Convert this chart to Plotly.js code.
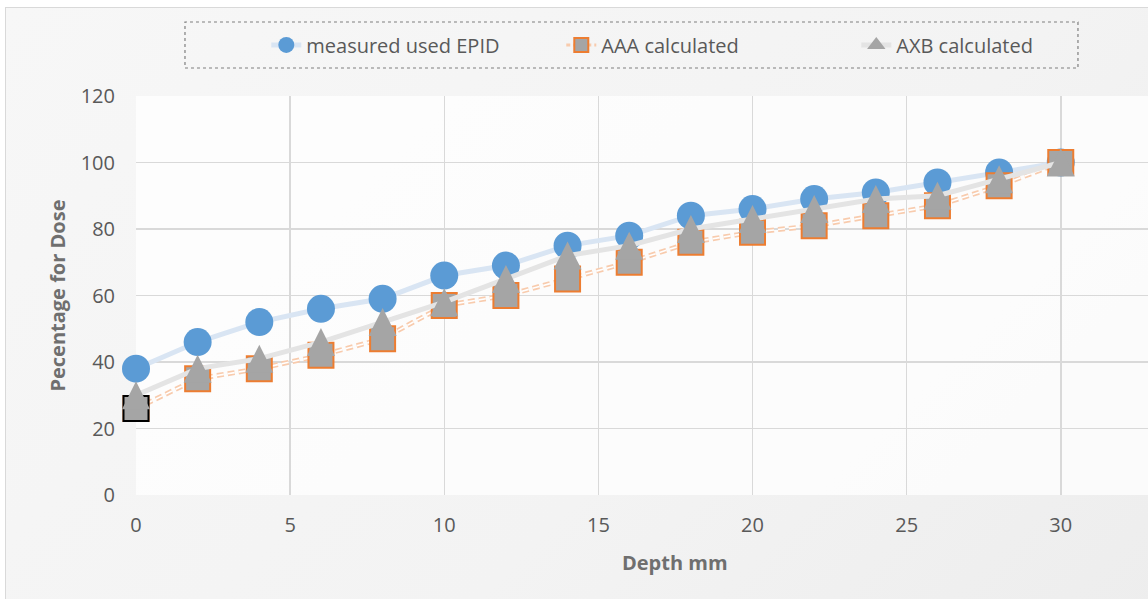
<!DOCTYPE html>
<html>
<head>
<meta charset="utf-8">
<script src="https://cdn.plot.ly/plotly-3.0.1.min.js"></script>
<style>
  html, body { margin: 0; padding: 0; background: #ffffff; overflow: hidden; }
  #frame { position: absolute; left: 5px; top: 7px; width: 1160px; height: 610px;
           border: 1px solid #d9d9d9;
           background: linear-gradient(135deg, #f7f7f7 0%, #f3f3f3 60%, #ededed 100%); }
  #chart { position: absolute; left: 0; top: 0; width: 1148px; height: 599px; }
</style>
</head>
<body>
<div id="frame"></div>
<div id="chart"></div>
<script>
// Depth (mm)
const depth = [0, 2, 4, 6, 8, 10, 12, 14, 16, 18, 20, 22, 24, 26, 28, 30];
// Percentage for dose
const measuredEPID = [38, 46, 52, 56, 59, 66, 69, 75, 78, 84, 86, 89, 91, 94, 97, 100];
const aaaCalculated = [26, 35, 38, 42, 47, 57, 60, 65, 70, 76, 79, 81, 84, 87, 93, 100];
const axbCalculated = [30, 38, 41, 46, 52, 58, 65, 72, 75, 80, 83, 86, 89, 90, 95, 100];

const seriesNames = ['measured used EPID', 'AAA calculated', 'AXB calculated'];
const xTicks = [0, 5, 10, 15, 20, 25, 30];
const yTicks = [0, 20, 40, 60, 80, 100, 120];
const xTitle = 'Depth mm';
const yTitle = 'Pecentage for Dose';

const textGrey = '#595959';
const titleGrey = '#6f6f6f';
const font = 'Open Sans, sans-serif';

const blueLine = '#d9e5f3', blueMarker = '#5b9bd5';
const peach = '#f8cbad', orange = '#ed7d31', greyMarker = '#a5a5a5', greyLine = '#e4e4e4';
const aaaDash = '7px,4px';

const traces = [
  // measured used EPID
  {
    x: depth, y: measuredEPID, name: seriesNames[0], type: 'scatter', mode: 'lines+markers',
    legendrank: 1, cliponaxis: false,
    line: { color: blueLine, width: 5 },
    marker: { symbol: 'circle', size: 28, color: blueMarker }
  },
  // AAA: compound (double) dashed line = wide peach dash with a thin white core
  {
    x: depth, y: aaaCalculated, type: 'scatter', mode: 'lines', showlegend: false, cliponaxis: false,
    line: { color: peach, width: 5, dash: aaaDash }, hoverinfo: 'skip'
  },
  {
    x: depth, y: aaaCalculated, type: 'scatter', mode: 'lines', showlegend: false, cliponaxis: false,
    line: { color: '#ffffff', width: 1.6, dash: aaaDash }, hoverinfo: 'skip'
  },
  // AAA markers
  {
    x: depth, y: aaaCalculated, name: seriesNames[1], type: 'scatter', mode: 'markers',
    showlegend: false, cliponaxis: false,
    marker: { symbol: 'square', size: 25, color: greyMarker, line: { color: orange, width: 2 } }
  },
  // first AAA point is drawn with a black outline in the original
  {
    x: depth.slice(0, 1), y: aaaCalculated.slice(0, 1), type: 'scatter', mode: 'markers',
    showlegend: false, cliponaxis: false,
    marker: { symbol: 'square', size: 25, color: greyMarker, line: { color: '#000000', width: 2 } }
  },
  // AXB calculated
  {
    x: depth, y: axbCalculated, name: seriesNames[2], type: 'scatter', mode: 'lines+markers',
    showlegend: false, cliponaxis: false,
    line: { color: greyLine, width: 5 },
    marker: { symbol: 'arrow-down', angle: 180, standoff: 14, size: 28, color: greyMarker }
  },
  // legend entries
  {
    x: [null], y: [null], name: seriesNames[1], type: 'scatter', mode: 'lines+markers', legendrank: 2,
    line: { color: peach, width: 3, dash: '4px,3px' },
    marker: { symbol: 'square', size: 14, color: greyMarker, line: { color: orange, width: 2 } }
  },
  {
    x: [null], y: [null], name: seriesNames[2], type: 'scatter', mode: 'lines+markers', legendrank: 3,
    line: { color: greyLine, width: 5 },
    marker: { symbol: 'triangle-up', size: 16, color: greyMarker }
  }
];

const layout = {
  width: 1148, height: 599,
  margin: { l: 136, r: 0, t: 96, b: 104, pad: 0, autoexpand: false },
  paper_bgcolor: 'rgba(0,0,0,0)',
  plot_bgcolor: 'rgba(255,255,255,0.75)',
  font: { family: font, color: textGrey, size: 20 },
  showlegend: true,
  legend: {
    orientation: 'h', x: 0.566, y: 1.128, xanchor: 'center', yanchor: 'middle',
    bgcolor: 'rgba(0,0,0,0)', borderwidth: 0,
    font: { family: font, size: 20, color: textGrey },
    entrywidth: 250, traceorder: 'normal'
  },
  xaxis: {
    range: [0, 32.83], tickvals: xTicks, ticktext: xTicks.map(String),
    showgrid: true, gridcolor: '#d9d9d9', gridwidth: 1.5, zeroline: false, showline: false,
    ticks: '', ticklabelstandoff: 16, tickfont: { family: font, size: 20, color: textGrey },
    fixedrange: true
  },
  yaxis: {
    range: [0, 120], tickvals: yTicks, ticktext: yTicks.map(String),
    showgrid: true, gridcolor: '#d9d9d9', gridwidth: 1.5, zeroline: false, showline: false,
    ticks: '', ticklabelstandoff: 20, tickfont: { family: font, size: 20, color: textGrey },
    fixedrange: true
  },
  shapes: [
    { type: 'rect', xref: 'paper', yref: 'paper', x0: 0.0484, x1: 0.9308, y0: 1.0702, y1: 1.1855,
      line: { color: '#7f7f7f', width: 1.2, dash: 'dot' }, fillcolor: 'rgba(0,0,0,0)' }
  ],
  annotations: [
    { text: '<b>' + xTitle + '</b>', xref: 'paper', yref: 'paper', x: 0.5326, y: -0.170,
      showarrow: false, xanchor: 'center', yanchor: 'middle',
      font: { family: font, size: 20, color: titleGrey } },
    { text: '<b>' + yTitle + '</b>', xref: 'paper', yref: 'paper', x: -0.078, y: 0.5,
      textangle: -90, showarrow: false, xanchor: 'center', yanchor: 'middle',
      font: { family: font, size: 20, color: titleGrey } }
  ]
};

Plotly.newPlot('chart', traces, layout, { displayModeBar: false, staticPlot: true });
</script>
</body>
</html>
